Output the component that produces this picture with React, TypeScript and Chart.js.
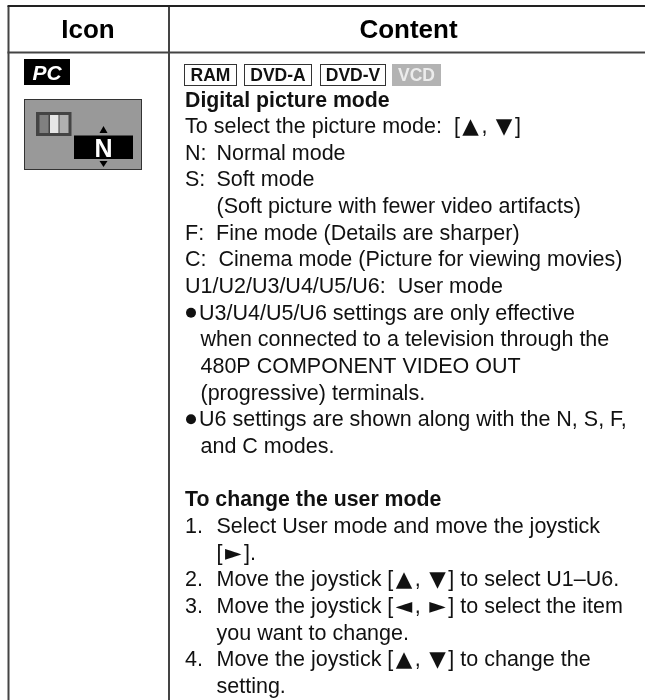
import React, { useEffect, useRef } from "react";
import { Chart, registerables, Plugin } from "chart.js";

Chart.register(...registerables);

const FONT = '"Liberation Sans", Arial, sans-serif';
const SYMBOL_FONT = '"DejaVu Sans", sans-serif';
const INK = "#111111";

// Text content
const headers = ["Icon", "Content"];
const discLabels = ["RAM", "DVD-A", "DVD-V", "VCD"];
const iconBadge = "PC";
const iconMode = "N";
const bodyLines: [string, string, string][] = [
  ["b", "", "Digital picture mode"],
  ["r", "", "To select the picture mode:  [▲, ▼]"],
  ["t", "N:", "Normal mode"],
  ["t", "S:", "Soft mode"],
  ["t", "", "(Soft picture with fewer video artifacts)"],
  ["r", "", "F:  Fine mode (Details are sharper)"],
  ["r", "", "C:  Cinema mode (Picture for viewing movies)"],
  ["r", "", "U1/U2/U3/U4/U5/U6:  User mode"],
  ["u", "", "U3/U4/U5/U6 settings are only effective"],
  ["c", "", "when connected to a television through the"],
  ["c", "", "480P COMPONENT VIDEO OUT"],
  ["c", "", "(progressive) terminals."],
  ["u", "", "U6 settings are shown along with the N, S, F,"],
  ["c", "", "and C modes."],
  ["s", "", ""],
  ["b", "", "To change the user mode"],
  ["t", "1.", "Select User mode and move the joystick"],
  ["t", "", "[►]."],
  ["t", "2.", "Move the joystick [▲, ▼] to select U1–U6."],
  ["t", "3.", "Move the joystick [◄, ►] to select the item"],
  ["t", "", "you want to change."],
  ["t", "4.", "Move the joystick [▲, ▼] to change the"],
  ["t", "", "setting."],
];

// Layout, in page pixels
const L = {
  left: 8.5, right: 645, top: 6, head: 52.5, split: 169, bottom: 700,
  textX: 185, tabX: 216.5, pitch: 26.65, firstBaseline: 106.5, bodySize: 21.5, boldSize: 21.3, symbolPad: 2.5,
};

const sheet: Plugin = {
  id: "sheet",
  afterDatasetsDraw(chart) {
    const ctx = chart.ctx;
    const X = (v: number) => chart.scales.x.getPixelForValue(v);
    const Y = (v: number) => chart.scales.y.getPixelForValue(v);
    const rect = (x0: number, y0: number, x1: number, y1: number, fill: string, stroke?: string, lw = 1) => {
      ctx.fillStyle = fill;
      ctx.fillRect(X(x0), Y(y0), X(x1) - X(x0), Y(y1) - Y(y0));
      if (stroke) {
        ctx.strokeStyle = stroke;
        ctx.lineWidth = lw;
        ctx.strokeRect(X(x0), Y(y0), X(x1) - X(x0), Y(y1) - Y(y0));
      }
    };
    const text = (s: string, x: number, y: number, font: string, color = INK, align: CanvasTextAlign = "left") => {
      ctx.font = font;
      ctx.fillStyle = color;
      ctx.textAlign = align;
      ctx.textBaseline = "alphabetic";
      ctx.fillText(s, X(x), Y(y));
    };
    // Body copy with the arrow glyphs taken from the symbol font, which has the larger shapes.
    const runs = (s: string, x: number, y: number) => {
      let cx = X(x);
      ctx.fillStyle = INK;
      ctx.textAlign = "left";
      ctx.textBaseline = "alphabetic";
      s.split(/([▲▼◄►])/).filter(Boolean).forEach((part) => {
        const sym = /[▲▼◄►]/.test(part);
        ctx.font = sym ? `${L.bodySize}px ${SYMBOL_FONT}` : `${L.bodySize}px ${FONT}`;
        if (sym) cx += L.symbolPad;
        ctx.fillText(part, cx, Y(y));
        cx += ctx.measureText(part).width;
        if (sym) cx += L.symbolPad;
      });
    };
    const tri = (cx: number, y0: number, y1: number, hw: number) => {
      ctx.fillStyle = "#000";
      ctx.beginPath();
      ctx.moveTo(X(cx), Y(y0));
      ctx.lineTo(X(cx - hw), Y(y1));
      ctx.lineTo(X(cx + hw), Y(y1));
      ctx.closePath();
      ctx.fill();
    };

    ctx.save();
    ctx.filter = "blur(0.35px)";
    // table heads
    text(headers[0], 88, 38, `bold 26px ${FONT}`, "#000", "center");
    text(headers[1], 408.5, 38, `bold 26px ${FONT}`, "#000", "center");

    // icon column
    rect(24, 59, 70, 85, "#000");
    text(iconBadge, 47, 80, `italic bold 21px ${FONT}`, "#fff", "center");
    rect(24.5, 99.5, 141.5, 169.5, "#999999", "#333333", 1);
    rect(36, 112, 71.5, 136, "#444444");
    rect(39.5, 115, 48.5, 133, "#808080");
    rect(50, 115, 58.5, 133, "#e6e6e6");
    rect(59.5, 115, 68.5, 133, "#b0b0b0");
    rect(74, 135.5, 133, 159, "#000");
    text(iconMode, 103.5, 157, `bold 25px ${FONT}`, "#fff", "center");
    tri(103.5, 126, 133, 4);
    tri(103.5, 167, 161, 4);

    // disc tags
    const tags: [number, number][] = [[184.5, 236.5], [244.5, 311.5], [320.5, 385.5]];
    tags.forEach(([a, b], i) => {
      rect(a, 64.5, b, 85.5, "#fff", "#333333", 1);
      text(discLabels[i], (a + b) / 2, 81, `bold 17.5px ${FONT}`, INK, "center");
    });
    rect(392, 64, 441, 86, "#b3b3b3");
    text(discLabels[3], 416.5, 81, `bold 17.5px ${FONT}`, "#ececec", "center");

    // body copy
    const bold = `bold ${L.boldSize}px ${FONT}`;
    bodyLines.forEach(([kind, tag, s], i) => {
      const y = L.firstBaseline + i * L.pitch;
      if (kind === "b") text(s, L.textX, y, bold);
      else if (kind === "r") runs(s, L.textX, y);
      else if (kind === "t") {
        if (tag) runs(tag, L.textX, y);
        runs(s, L.tabX, y);
      } else if (kind === "u") {
        ctx.fillStyle = INK;
        ctx.beginPath();
        ctx.arc(X(191), Y(y - 7), 5, 0, Math.PI * 2);
        ctx.fill();
        runs(s, 199, y);
      } else if (kind === "c") runs(s, 200.5, y);
    });
    ctx.restore();
  },
};

export default function App() {
  const ref = useRef<HTMLCanvasElement>(null);
  useEffect(() => {
    document.body.style.margin = "0";
    const seg = (x0: number, y0: number, x1: number, y1: number, w: number, color: string) => ({
      data: [{ x: x0, y: y0 }, { x: x1, y: y1 }],
      borderColor: color,
      borderWidth: w,
      pointRadius: 0,
      showLine: true,
    });
    const chart = new Chart(ref.current!, {
      type: "scatter",
      data: {
        datasets: [
          seg(L.left - 1, L.top, L.right, L.top, 2, "#222222"),
          seg(L.left - 1, L.head, L.right, L.head, 2, "#444444"),
          seg(L.left, L.top, L.left, L.bottom, 2, "#444444"),
          seg(L.split, L.top, L.split, L.bottom, 2, "#444444"),
        ],
      },
      options: {
        animation: false,
        responsive: false,
        layout: { padding: 0 },
        plugins: { legend: { display: false }, tooltip: { enabled: false }, title: { display: false } },
        scales: {
          x: { type: "linear", min: 0, max: 645, display: false },
          y: { type: "linear", min: 0, max: 700, reverse: true, display: false },
        },
      },
      plugins: [
        {
          id: "paper",
          beforeDraw(c) {
            c.ctx.fillStyle = "#fff";
            c.ctx.fillRect(0, 0, c.width, c.height);
          },
        },
        sheet,
      ],
    });
    return () => chart.destroy();
  }, []);
  return <canvas ref={ref} width={645} height={700} style={{ display: "block" }} />;
}
